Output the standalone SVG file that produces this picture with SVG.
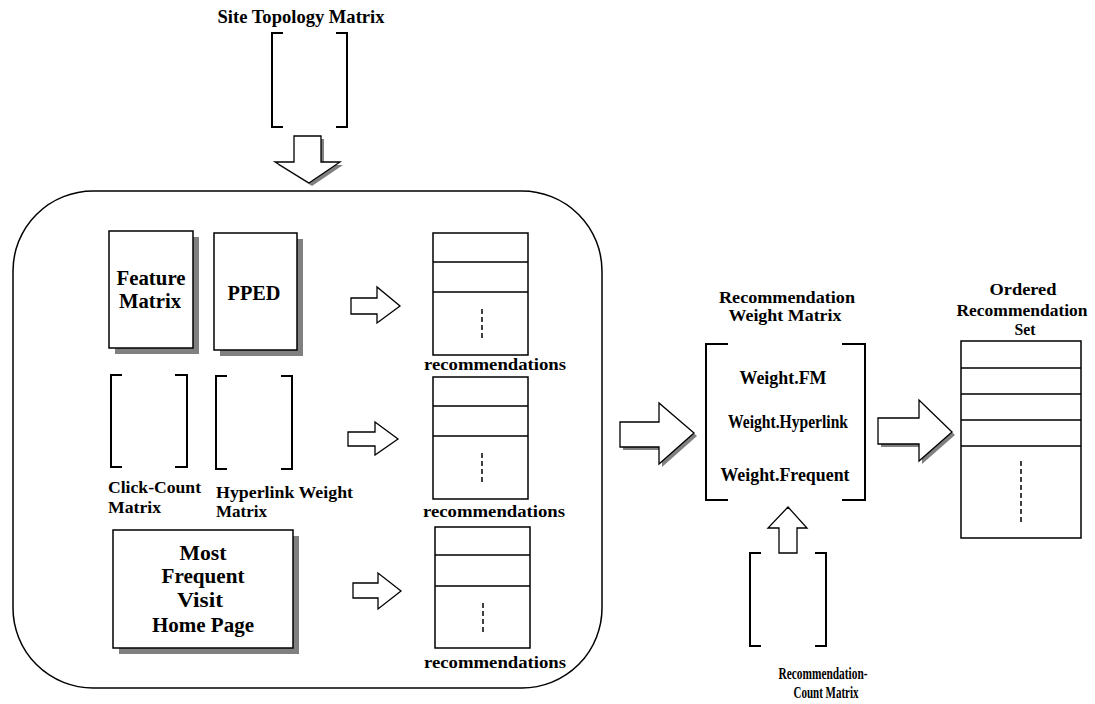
<svg xmlns="http://www.w3.org/2000/svg" width="1095" height="704" viewBox="0 0 1095 704">
<style>
text{font-family:"Liberation Serif","Times New Roman",serif;font-weight:bold;fill:#000}
.t19{font-size:20px;text-anchor:middle}
.t16{font-size:18px;text-anchor:middle}
.t15{font-size:16px}
.rec{font-size:17px;text-anchor:middle}
.w{font-size:18px;text-anchor:middle}
.c{text-anchor:middle}
.box{fill:#fff;stroke:#000;stroke-width:1.5}
.sh{fill:#808080;stroke:none}
.br{fill:none;stroke:#000;stroke-width:2}
.ln{stroke:#000;stroke-width:1.3;fill:none}
.dash{stroke:#000;stroke-width:1.5;stroke-dasharray:5,3;fill:none}
.arr{fill:#fff;stroke:#000;stroke-width:1.3}
</style>
<rect width="1095" height="704" fill="#fff"/>

<g id="site-topology">
<text x="301" y="23" style="font-size:18px" text-anchor="middle" textLength="167" lengthAdjust="spacingAndGlyphs">Site Topology Matrix</text>
<path class="br" d="M283,33 H272 V127 H283 M336,33 H347 V127 H336"/>
</g>

<g id="engine">
<rect x="13" y="191" width="589" height="497" rx="80" ry="80" fill="none" stroke="#000" stroke-width="1.5"/>
</g>

<g id="feature-matrix">
<rect class="sh" x="115" y="237" width="84" height="117"/>
<rect class="box" x="109" y="231" width="84" height="117"/>
<text class="t19" x="151" y="285" textLength="69" lengthAdjust="spacingAndGlyphs">Feature</text>
<text class="t19" x="150" y="308" textLength="62" lengthAdjust="spacingAndGlyphs">Matrix</text>
</g>

<g id="pped">
<rect class="sh" x="220" y="239" width="83" height="117"/>
<rect class="box" x="214" y="233" width="83" height="117"/>
<text class="t19" x="254" y="300" textLength="53" lengthAdjust="spacingAndGlyphs">PPED</text>
</g>

<g id="click-count">
<path class="br" d="M122,375 H111 V467 H122 M175,375 H187 V467 H175"/>
<text class="t15" x="108" y="493" textLength="93" lengthAdjust="spacingAndGlyphs">Click-Count</text>
<text class="t15" x="108" y="513" textLength="53" lengthAdjust="spacingAndGlyphs">Matrix</text>
</g>

<g id="hyperlink-weight">
<path class="br" d="M227,376 H216 V469 H227 M281,376 H292 V469 H281"/>
<text class="t15" x="216" y="498" textLength="137" lengthAdjust="spacingAndGlyphs">Hyperlink Weight</text>
<text class="t15" x="216" y="517" textLength="51" lengthAdjust="spacingAndGlyphs">Matrix</text>
</g>

<g id="most-frequent">
<rect class="sh" x="119" y="536" width="180" height="118"/>
<rect class="box" x="113" y="530" width="180" height="118"/>
<text class="t19" x="203" y="560" textLength="47" lengthAdjust="spacingAndGlyphs">Most</text>
<text class="t19" x="203" y="583" textLength="83" lengthAdjust="spacingAndGlyphs">Frequent</text>
<text class="t19" x="200" y="607" textLength="46" lengthAdjust="spacingAndGlyphs">Visit</text>
<text class="t19" x="203" y="632" textLength="102" lengthAdjust="spacingAndGlyphs">Home Page</text>
</g>

<g id="recs-1">
<rect class="box" x="433" y="233" width="95" height="122"/>
<path class="ln" d="M433,262 H528 M433,292 H528"/>
<path class="dash" d="M482,309 V341"/>
<text class="rec" x="495" y="370" textLength="142" lengthAdjust="spacingAndGlyphs">recommendations</text>
</g>

<g id="recs-2">
<rect class="box" x="433" y="377" width="95" height="122"/>
<path class="ln" d="M433,406 H528 M433,436 H528"/>
<path class="dash" d="M482,453 V485"/>
<text class="rec" x="494" y="517" textLength="142" lengthAdjust="spacingAndGlyphs">recommendations</text>
</g>

<g id="recs-3">
<rect class="box" x="435" y="527" width="95" height="121"/>
<path class="ln" d="M435,555 H530 M435,586 H530"/>
<path class="dash" d="M483,603 V634"/>
<text class="rec" x="495" y="668" textLength="142" lengthAdjust="spacingAndGlyphs">recommendations</text>
</g>

<g id="weight-matrix">
<text class="c" style="font-size:16px" x="787" y="303" textLength="136" lengthAdjust="spacingAndGlyphs">Recommendation</text>
<text class="c" style="font-size:16px" x="785" y="321" textLength="113" lengthAdjust="spacingAndGlyphs">Weight Matrix</text>
<path class="br" d="M728,344 H706 V500 H728 M842,344 H865 V500 H842"/>
<text class="w" x="783" y="384" textLength="87" lengthAdjust="spacingAndGlyphs">Weight.FM</text>
<text class="w" x="788" y="428" textLength="120" lengthAdjust="spacingAndGlyphs">Weight.Hyperlink</text>
<text class="w" x="785" y="481" textLength="129" lengthAdjust="spacingAndGlyphs">Weight.Frequent</text>
</g>

<g id="recommendation-count">
<path class="br" d="M761,553 H750 V646 H761 M815,553 H826 V646 H815"/>
<text class="c" style="font-size:17px" x="823" y="679" textLength="89" lengthAdjust="spacingAndGlyphs">Recommendation-</text>
<text class="c" style="font-size:17px" x="826" y="698" textLength="65" lengthAdjust="spacingAndGlyphs">Count Matrix</text>
</g>

<g id="ordered-set">
<text class="c" style="font-size:17px" x="1023" y="295" textLength="67" lengthAdjust="spacingAndGlyphs">Ordered</text>
<text class="c" style="font-size:17px" x="1022" y="316" textLength="131" lengthAdjust="spacingAndGlyphs">Recommendation</text>
<text class="c" style="font-size:17px" x="1025" y="335" textLength="21" lengthAdjust="spacingAndGlyphs">Set</text>
<rect class="box" x="961" y="341" width="120" height="197"/>
<path class="ln" d="M961,368 H1081 M961,394 H1081 M961,420 H1081 M961,446 H1081"/>
<path class="dash" d="M1021,461 V525"/>
</g>

<g id="connectors">
<polygon class="sh" points="297,139 324,139 324,165 343,165 312,186 278,165 297,165"/>
<polygon class="arr" points="294,136 321,136 321,162 340,162 309,183 275,162 294,162"/>
<polygon class="arr" points="351,298 377,298 377,287 400,306 377,323 377,314 351,314"/>
<polygon class="arr" points="348,432 375,432 375,422 398,439 375,455 375,446 348,446"/>
<polygon class="arr" points="353,583 378,583 378,573 401,591 378,609 378,598 353,598"/>
<polygon class="sh" points="623,425 662,425 662,406 697,436 662,467 662,450 623,450"/>
<polygon class="arr" points="620,422 659,422 659,403 694,433 659,464 659,447 620,447"/>
<polygon class="arr" points="779,553 779,528 768,528 788,507 807,528 797,528 797,553"/>
<polygon class="sh" points="881,421 922,421 922,403 955,435 922,464 922,447 881,447"/>
<polygon class="arr" points="878,418 919,418 919,400 952,432 919,461 919,444 878,444"/>
</g>
</svg>
